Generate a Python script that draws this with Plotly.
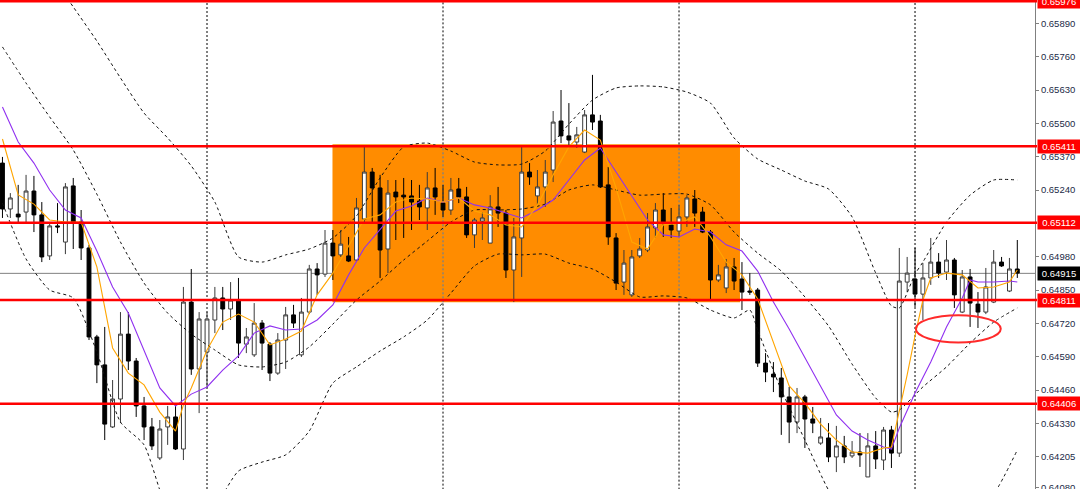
import plotly.graph_objects as go

# ---------------- data (H4 candles, price values) ----------------
open_ = [0.65345,0.65166,0.65146,0.65154,0.65236,0.65143,0.64983,0.65100,0.65037,0.65256,
         0.65115,0.65014,0.64667,0.64558,0.64316,0.64425,0.64678,0.64573,0.64398,0.64316,
         0.64195,0.64316,0.64355,0.64230,0.64803,0.64542,0.64608,0.64733,0.64819,0.64776,
         0.64811,0.64639,0.64597,0.64721,0.64639,0.64526,0.64655,0.64753,0.64597,0.64764,
         0.64932,0.64912,0.65033,0.64987,0.64983,0.64967,0.65127,0.65310,0.65248,0.65010,
         0.65232,0.65220,0.65217,0.65197,0.65170,0.65248,0.65189,0.65162,0.65244,0.65213,
         0.65065,0.65119,0.65033,0.65174,0.65150,0.64928,0.65053,0.65310,0.65217,0.65252,
         0.65318,0.65509,0.65451,0.65427,0.65388,0.65533,0.65509,0.65260,0.65053,0.64881,
         0.64831,0.64983,0.65006,0.65092,0.65162,0.65104,0.65080,0.65135,0.65205,0.65154,
         0.65076,0.64889,0.64858,0.64940,0.64893,0.64846,0.64850,0.64565,0.64522,0.64507,
         0.64433,0.64335,0.64433,0.64347,0.64253,0.64273,0.64199,0.64242,0.64203,0.64218,
         0.64121,0.64242,0.64187,0.64304,0.64214,0.64881,0.64893,0.64834,0.64897,0.64959,
         0.64920,0.64967,0.64764,0.64901,0.64795,0.64764,0.64803,0.64959,0.64846,0.64932]
high = [0.65369,0.65228,0.65260,0.65299,0.65295,0.65193,0.65115,0.65189,0.65267,0.65287,
        0.65162,0.65026,0.64675,0.64706,0.64499,0.64764,0.64764,0.64585,0.64433,0.64351,
        0.64343,0.64398,0.64398,0.64862,0.64932,0.64764,0.64764,0.64862,0.64862,0.64881,
        0.64897,0.64702,0.64799,0.64733,0.64647,0.64682,0.64784,0.64792,0.64819,0.64948,
        0.64955,0.65084,0.65084,0.65084,0.65057,0.65209,0.65408,0.65326,0.65299,0.65279,
        0.65279,0.65287,0.65279,0.65260,0.65310,0.65326,0.65260,0.65287,0.65287,0.65252,
        0.65131,0.65154,0.65220,0.65252,0.65162,0.65131,0.65408,0.65345,0.65318,0.65357,
        0.65548,0.65630,0.65579,0.65486,0.65552,0.65689,0.65533,0.65330,0.65072,0.65006,
        0.65006,0.65053,0.65150,0.65189,0.65228,0.65170,0.65182,0.65220,0.65240,0.65174,
        0.65084,0.64948,0.64971,0.64975,0.64959,0.64916,0.64858,0.64604,0.64569,0.64546,
        0.64472,0.64468,0.64441,0.64394,0.64351,0.64331,0.64320,0.64281,0.64261,0.64292,
        0.64292,0.64300,0.64316,0.64320,0.65014,0.64979,0.65014,0.64955,0.65053,0.64994,
        0.65045,0.64975,0.64928,0.64932,0.64842,0.64936,0.65006,0.64979,0.64975,0.65045]
low = [0.65131,0.65131,0.65115,0.65115,0.65076,0.64959,0.64967,0.65072,0.64990,0.65010,
       0.64967,0.64655,0.64487,0.64265,0.64312,0.64331,0.64538,0.64355,0.64265,0.64226,
       0.64187,0.64246,0.64226,0.64187,0.64519,0.64370,0.64468,0.64682,0.64694,0.64733,
       0.64585,0.64604,0.64589,0.64538,0.64495,0.64519,0.64542,0.64702,0.64589,0.64756,
       0.64831,0.64901,0.64889,0.64979,0.64959,0.64959,0.65115,0.65115,0.64897,0.64916,
       0.65045,0.65053,0.65084,0.65123,0.65084,0.65143,0.65135,0.65143,0.65189,0.65053,
       0.65014,0.65045,0.65033,0.65096,0.64897,0.64803,0.64901,0.65260,0.65182,0.65174,
       0.65271,0.65423,0.65416,0.65404,0.65384,0.65474,0.65248,0.65026,0.64850,0.64831,
       0.64823,0.64975,0.64998,0.65053,0.65057,0.65053,0.65057,0.65096,0.65096,0.65072,
       0.64811,0.64881,0.64838,0.64850,0.64772,0.64831,0.64550,0.64491,0.64452,0.64285,
       0.64253,0.64292,0.64234,0.64292,0.64246,0.64179,0.64140,0.64175,0.64195,0.64160,
       0.64121,0.64152,0.64148,0.64156,0.64199,0.64842,0.64784,0.64733,0.64870,0.64897,
       0.64889,0.64780,0.64760,0.64706,0.64702,0.64756,0.64799,0.64940,0.64842,0.64897]
close = [0.65166,0.65209,0.65135,0.65236,0.65143,0.64979,0.65100,0.65096,0.65252,0.65115,
         0.65014,0.64667,0.64558,0.64327,0.64425,0.64678,0.64573,0.64398,0.64316,0.64242,
         0.64308,0.64355,0.64230,0.64803,0.64542,0.64737,0.64737,0.64819,0.64776,0.64811,
         0.64643,0.64667,0.64721,0.64643,0.64526,0.64655,0.64753,0.64721,0.64764,0.64932,
         0.64909,0.65033,0.64983,0.65029,0.64963,0.65170,0.65310,0.65248,0.65006,0.65228,
         0.65213,0.65213,0.65193,0.65174,0.65248,0.65213,0.65162,0.65240,0.65213,0.65065,
         0.65123,0.65131,0.65174,0.65150,0.64928,0.65057,0.65310,0.65291,0.65252,0.65310,
         0.65505,0.65451,0.65435,0.65455,0.65533,0.65505,0.65252,0.65057,0.64877,0.64955,
         0.64979,0.65010,0.65096,0.65162,0.65111,0.65084,0.65135,0.65209,0.65150,0.65076,
         0.64889,0.64909,0.64940,0.64885,0.64842,0.64842,0.64565,0.64530,0.64511,0.64433,
         0.64335,0.64433,0.64347,0.64331,0.64277,0.64199,0.64242,0.64199,0.64218,0.64207,
         0.64242,0.64191,0.64304,0.64214,0.64885,0.64916,0.64834,0.64897,0.64959,0.64916,
         0.64967,0.64831,0.64901,0.64799,0.64764,0.64862,0.64959,0.64944,0.64932,0.64916]
bar_index = list(range(len(close)))

# fast moving average (orange)
fast_ma_idx = [0,2,4,6,8,10,12,14,16,18,20,22,23,24,26,28,30,32,34,36,38,40,42,44,46,48,50,
               52,54,56,58,60,62,64,66,68,70,72,74,76,78,80,82,84,86,88,90,92,94,96,98,100,
               102,104,106,108,110,112,113,114,115,116,117,118,120,122,124,126,128,129]
fast_ma_val = [0.65439,0.65221,0.65185,0.65123,0.65115,0.65115,0.64940,0.64624,0.64526,0.64480,
               0.64374,0.64300,0.64402,0.64468,0.64616,0.64725,0.64756,0.64725,0.64636,0.64659,
               0.64690,0.64831,0.64916,0.65022,0.65127,0.65143,0.65193,0.65209,0.65205,0.65193,
               0.65209,0.65158,0.65143,0.65104,0.65096,0.65182,0.65299,0.65408,0.65474,0.65435,
               0.65248,0.65037,0.65010,0.65104,0.65111,0.65135,0.65057,0.64959,0.64909,0.64815,
               0.64647,0.64476,0.64409,0.64327,0.64265,0.64218,0.64214,0.64234,0.64238,0.64374,
               0.64519,0.64671,0.64811,0.64897,0.64916,0.64909,0.64858,0.64862,0.64881,0.64928]

# slow moving average (purple)
slow_ma_idx = [0,2,4,6,8,10,12,14,16,18,20,22,24,26,28,30,32,34,36,38,40,42,44,46,48,50,52,
               54,56,58,60,62,64,66,68,70,72,74,76,78,80,82,84,86,88,90,92,94,96,98,100,102,
               104,106,108,110,112,113,114,116,118,120,122,123,124,126,128,129]
slow_ma_val = [0.65564,0.65427,0.65345,0.65240,0.65162,0.65131,0.65002,0.64862,0.64760,0.64616,
               0.64468,0.64398,0.64444,0.64472,0.64538,0.64593,0.64682,0.64710,0.64694,0.64698,
               0.64733,0.64792,0.64909,0.65014,0.65084,0.65158,0.65178,0.65209,0.65193,0.65209,
               0.65182,0.65170,0.65150,0.65131,0.65162,0.65201,0.65279,0.65357,0.65404,0.65310,
               0.65213,0.65123,0.65065,0.65057,0.65088,0.65076,0.65026,0.65002,0.64924,0.64803,
               0.64698,0.64585,0.64472,0.64363,0.64300,0.64265,0.64238,0.64230,0.64312,0.64448,
               0.64569,0.64706,0.64819,0.64889,0.64881,0.64881,0.64885,0.64881]

# Bollinger bands
bb_upper_idx = list(range(0, 112, 3)) + [113,114,116,117,120,123,126,129]
bb_upper_val = [0.66352,0.66223,0.66086,0.65954,0.65821,0.65677,0.65540,0.65443,0.65334,0.65193,
                0.64979,0.64959,0.64987,0.65010,0.65053,0.65139,0.65287,0.65408,0.65423,0.65392,
                0.65349,0.65338,0.65341,0.65392,0.65497,0.65591,0.65638,0.65646,0.65642,0.65622,
                0.65579,0.65443,0.65361,0.65318,0.65275,0.65244,0.65135,0.64916,
                0.64788,0.64780,0.64912,0.64959,0.65115,0.65220,0.65279,0.65279]
bb_mid_idx = list(range(0, 112, 3)) + [113,114,117,120,123,126,129]
bb_mid_val = [0.65798,0.65657,0.65525,0.65396,0.65224,0.65037,0.64877,0.64760,0.64678,0.64616,
              0.64558,0.64550,0.64569,0.64628,0.64717,0.64811,0.64885,0.64967,0.65041,0.65115,
              0.65162,0.65162,0.65166,0.65185,0.65240,0.65260,0.65240,0.65220,0.65224,0.65224,
              0.65182,0.65076,0.64994,0.64924,0.64823,0.64710,0.64561,0.64429,
              0.64374,0.64382,0.64472,0.64550,0.64643,0.64725,0.64780]
bb_lower_idx = list(range(0, 94, 3)) + [95,96,99,102,105,108,111,114,117,120,123,126,129]
bb_lower_val = [0.65189,0.64971,0.64850,0.64819,0.64608,0.64335,0.64246,0.63992,0.63914,0.64004,
                0.64144,0.64179,0.64207,0.64300,0.64487,0.64550,0.64612,0.64667,0.64733,0.64838,
                0.64944,0.64990,0.64987,0.64990,0.64955,0.64932,0.64881,0.64823,0.64827,0.64819,
                0.64772,0.64741,
                0.64772,0.64694,0.64460,0.64265,0.64070,0.63934,0.63856,0.63836,0.63875,0.63906,
                0.63980,0.64055,0.64226]

# horizontal levels and labels
levels = [0.65976, 0.65411, 0.65112, 0.64811, 0.64406]
level_labels = ["0.65976", "0.65411", "0.65112", "0.64811", "0.64406"]
bid_price = 0.64915
bid_label = "0.64915"

tick_vals = [0.65890, 0.65760, 0.65630, 0.65500, 0.65370, 0.65240, 0.64980, 0.64850,
             0.64720, 0.64590, 0.64460, 0.64330, 0.64200, 0.64078]
tick_text = ["0.65890", "0.65760", "0.65630", "0.65500", "0.65370", "0.65240", "0.64980",
             "0.64850", "0.64720", "0.64590", "0.64460", "0.64330", "0.64205", "0.64080"]

separator_bars = [26, 56, 86, 116]

# ---------------- figure ----------------
fig = go.Figure()

fig.add_trace(go.Candlestick(
    x=bar_index, open=open_, high=high, low=low, close=close,
    increasing=dict(line=dict(color="#3a3a3a", width=1), fillcolor="#ffffff"),
    decreasing=dict(line=dict(color="#000000", width=1), fillcolor="#000000"),
    whiskerwidth=0, hoverinfo="skip", showlegend=False,
))

band_style = dict(color="#111111", width=1, dash="3px,3px")
for idx, val in [(bb_upper_idx, bb_upper_val), (bb_mid_idx, bb_mid_val), (bb_lower_idx, bb_lower_val)]:
    fig.add_trace(go.Scatter(x=idx, y=val, mode="lines", line=dict(**band_style, shape="spline", smoothing=0.6),
                             hoverinfo="skip", showlegend=False))

fig.add_trace(go.Scatter(x=slow_ma_idx, y=slow_ma_val, mode="lines",
                         line=dict(color="#9030f0", width=1.1), hoverinfo="skip", showlegend=False))
fig.add_trace(go.Scatter(x=fast_ma_idx, y=fast_ma_val, mode="lines",
                         line=dict(color="#ffa500", width=1.1), hoverinfo="skip", showlegend=False))

shapes = []
# orange consolidation box
box_x0, box_x1 = 41.95, 93.75
box_y0, box_y1 = 0.64802, 0.65418
shapes.append(dict(type="rect", xref="x", yref="y", x0=box_x0, x1=box_x1, y0=box_y0, y1=box_y1,
                   fillcolor="#ff8c00", line=dict(width=0), layer="below"))
# weekly separators (blue-ish where they cross the box)
for b in separator_bars:
    if box_x0 < b < box_x1:
        shapes.append(dict(type="line", xref="x", yref="y", x0=b, x1=b, y0=box_y1, y1=0.66100,
                           line=dict(color="#000000", width=1, dash="2px,2px"), layer="below"))
        shapes.append(dict(type="line", xref="x", yref="y", x0=b, x1=b, y0=box_y0, y1=box_y1,
                           line=dict(color="#4f7fb0", width=1, dash="2px,2px"), layer="below"))
        shapes.append(dict(type="line", xref="x", yref="y", x0=b, x1=b, y0=0.63900, y1=box_y0,
                           line=dict(color="#000000", width=1, dash="2px,2px"), layer="below"))
    else:
        shapes.append(dict(type="line", xref="x", yref="paper", x0=b, x1=b, y0=0, y1=1,
                           line=dict(color="#000000", width=1, dash="2px,2px"), layer="below"))
# bid line
shapes.append(dict(type="line", xref="paper", yref="y", x0=0, x1=1, y0=bid_price, y1=bid_price,
                   line=dict(color="#808080", width=1), layer="below"))
# red levels
for lv in levels:
    shapes.append(dict(type="line", xref="paper", yref="y", x0=0, x1=1.002, y0=lv, y1=lv,
                       line=dict(color="#ff0000", width=2.5), layer="above"))
# red ellipse
shapes.append(dict(type="circle", xref="x", yref="y", x0=116.1, x1=126.9, y0=0.64645, y1=0.64752,
                   line=dict(color="#ff2a2a", width=2), layer="above"))

annotations = []
for lv, txt in zip(levels, level_labels):
    annotations.append(dict(xref="paper", yref="y", x=1, y=lv, xanchor="left", yanchor="middle",
                            xshift=2, text=txt, showarrow=False, bgcolor="#ff0000",
                            font=dict(family="Liberation Sans", size=9.5, color="#ffffff"),
                            borderpad=1, width=40, align="center"))
annotations.append(dict(xref="paper", yref="y", x=1, y=bid_price, xanchor="left", yanchor="middle",
                        xshift=2, text=bid_label, showarrow=False, bgcolor="#000000",
                        font=dict(family="Liberation Sans", size=9.5, color="#ffffff"),
                        borderpad=1, width=40, align="center"))

fig.update_layout(
    width=1080, height=489,
    margin=dict(l=0, r=45, t=0, b=0, pad=0, autoexpand=False),
    paper_bgcolor="#ffffff", plot_bgcolor="#ffffff",
    showlegend=False,
    shapes=shapes, annotations=annotations,
    xaxis=dict(range=[-0.313, 131.25], visible=False, rangeslider=dict(visible=False),
               showgrid=False, zeroline=False, automargin=False),
    yaxis=dict(range=[0.64074, 0.65981], side="right", tickvals=tick_vals, ticktext=tick_text,
               showgrid=False, zeroline=False, showline=True, linecolor="#808080", linewidth=1,
               ticks="outside", ticklen=3, tickcolor="#808080", ticklabeloverflow="allow",
               automargin=False,
               tickfont=dict(family="Liberation Sans", size=9.5, color="#1b2a47")),
)

fig.write_html("out.html", config={"displayModeBar": False},
               post_script="document.body.style.margin='0';document.body.style.overflow='hidden';")
